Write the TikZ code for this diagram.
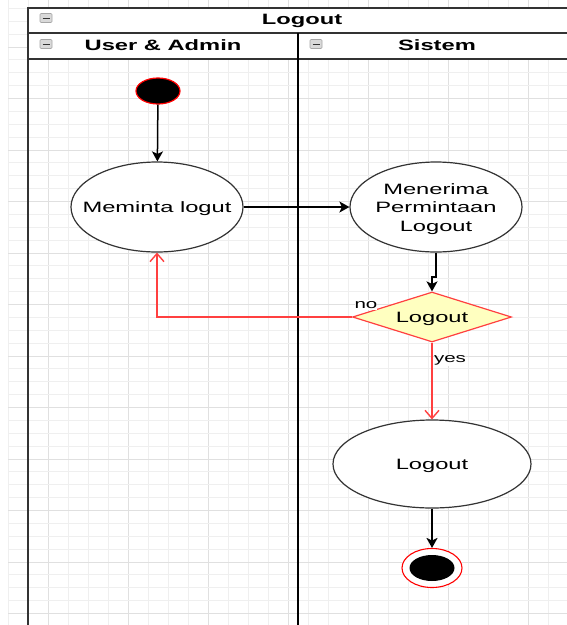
\documentclass[tikz,border=0pt]{standalone}
\usepackage{fontspec}
\setmainfont{Liberation Sans}
\usetikzlibrary{shapes.geometric,arrows.meta}
\definecolor{gridminor}{HTML}{EFEFEF}
\definecolor{gridmajor}{HTML}{E0E0E0}
\definecolor{redline}{HTML}{FF4040}
\definecolor{decfill}{HTML}{FFFFC0}
\definecolor{poolline}{HTML}{333333}
\newcommand{\sx}[1]{\makebox[0pt]{\scalebox{1.58}[1]{#1}}}
\newcommand{\dn}[2]{\raisebox{-#1}[\height][\depth]{#2}}
\tikzset{
  lbl/.style={font=\fontsize{15}{18.5}\selectfont, text=black},
  act/.style={ellipse, draw=poolline, line width=1.2pt, fill=white, inner sep=0pt, lbl},
  flow/.style={-{Stealth[length=10pt,width=11pt,inset=2.5pt]}, line width=1.5pt, black},
  redflow/.style={-{Straight Barb[length=8pt,width=14pt]}, line width=1.4pt, redline},
  hdr/.style={font=\bfseries\fontsize{15}{18}\selectfont, text=black},
  edgelbl/.style={font=\fontsize{13}{15}\selectfont, text=black, fill=white, inner sep=1pt, minimum width=22pt},
  icon/.style={draw=gray!70, fill=gray!30, rounded corners=1pt, line width=0.6pt}
}
\begin{document}
\begin{tikzpicture}[x=1pt,y=-1pt]
\useasboundingbox (0,0) rectangle (567,625);
\clip (0,0) rectangle (567,625);
\fill[white] (0,0) rectangle (567,625);
% grid
\foreach \i in {0,...,27} {
  \pgfmathsetmacro{\xx}{8+20*\i}
  \draw[gridminor, line width=0.9pt] (\xx,0) -- (\xx,625);
}
\foreach \i in {0,...,6} {
  \pgfmathsetmacro{\xx}{48+80*\i}
  \draw[gridmajor, line width=1pt] (\xx,0) -- (\xx,625);
}
\foreach \i in {-28,...,21} {
  \pgfmathsetmacro{\yy}{356+12.875*\i}
  \draw[gridminor, line width=0.9pt] (8,\yy) -- (567,\yy);
}
\foreach \i in {-7,...,5} {
  \pgfmathsetmacro{\yy}{356+51.5*\i}
  \draw[gridmajor, line width=1pt] (8,\yy) -- (567,\yy);
}
% pool
\fill[white] (28,8) rectangle (600,59);
\draw[poolline, line width=1.6pt] (28,8) rectangle (600,660);
\draw[poolline, line width=1.4pt] (28,33) -- (600,33);
\draw[poolline, line width=1.4pt] (28,59) -- (600,59);
\draw[black, line width=1.6pt] (298,33) -- (298,660);
% icons
\foreach \ix/\iy in {46/18, 46/44, 316/44} {
  \draw[icon] (\ix-6,\iy-4.5) rectangle (\ix+6,\iy+4.5);
  \draw[black!80, line width=1pt] (\ix-3.5,\iy) -- (\ix+3.5,\iy);
}
\node[hdr] (title) at (302,20.5) {\sx{Logout}};
\node[hdr] (lane1) at (163,45) {\sx{User \& Admin}};
\node[hdr] (lane2) at (437,45) {\sx{Sistem}};
% nodes
\node[ellipse, draw=red, fill=black, line width=1.2pt, minimum width=44pt, minimum height=26pt, inner sep=0pt] (start) at (158,91) {};
\node[act, minimum width=172pt, minimum height=90pt] (meminta) at (157,207) {\dn{2pt}{\sx{Meminta logut}}};
\node[act, minimum width=172pt, minimum height=90pt] (menerima) at (436,207)
  {\dn{2pt}{\sx{\begin{tabular}{@{}c@{}}Menerima\\Permintaan\\Logout\end{tabular}}}};
\node[diamond, draw=redline, fill=decfill, line width=1.2pt, minimum width=159pt, minimum height=50pt, inner sep=0pt, aspect=3.18, lbl] (dec) at (432,317) {\dn{2pt}{\sx{Logout}}};
\node[act, minimum width=198pt, minimum height=88pt] (logout) at (432,464) {\dn{2pt}{\sx{Logout}}};
\node[ellipse, draw=red, fill=white, line width=1.1pt, minimum width=60pt, minimum height=39pt, inner sep=0pt] (end) at (432,568) {};
\node[ellipse, fill=black, minimum width=45pt, minimum height=26pt, inner sep=0pt] (endin) at (432,568) {};
% connectors
\draw[flow] (start) -- (meminta);
\draw[flow] (meminta) -- (menerima);
\coordinate (j1) at (436,277);
\coordinate (j2) at (432,277);
\draw[flow] (menerima.south) -- (j1) -- (j2) -- (dec.north);
\coordinate (nocorner) at (157,317);
\draw[redflow] (dec.west) -- (nocorner) -- (meminta.south);
\draw[redflow] (dec.south) -- (logout.north);
\draw[flow] (logout.south) -- (end.north);
\node[edgelbl] (nolbl) at (366,305) {\sx{no}};
\node[edgelbl] (yeslbl) at (450,360) {\sx{yes}};
\end{tikzpicture}
\end{document}
